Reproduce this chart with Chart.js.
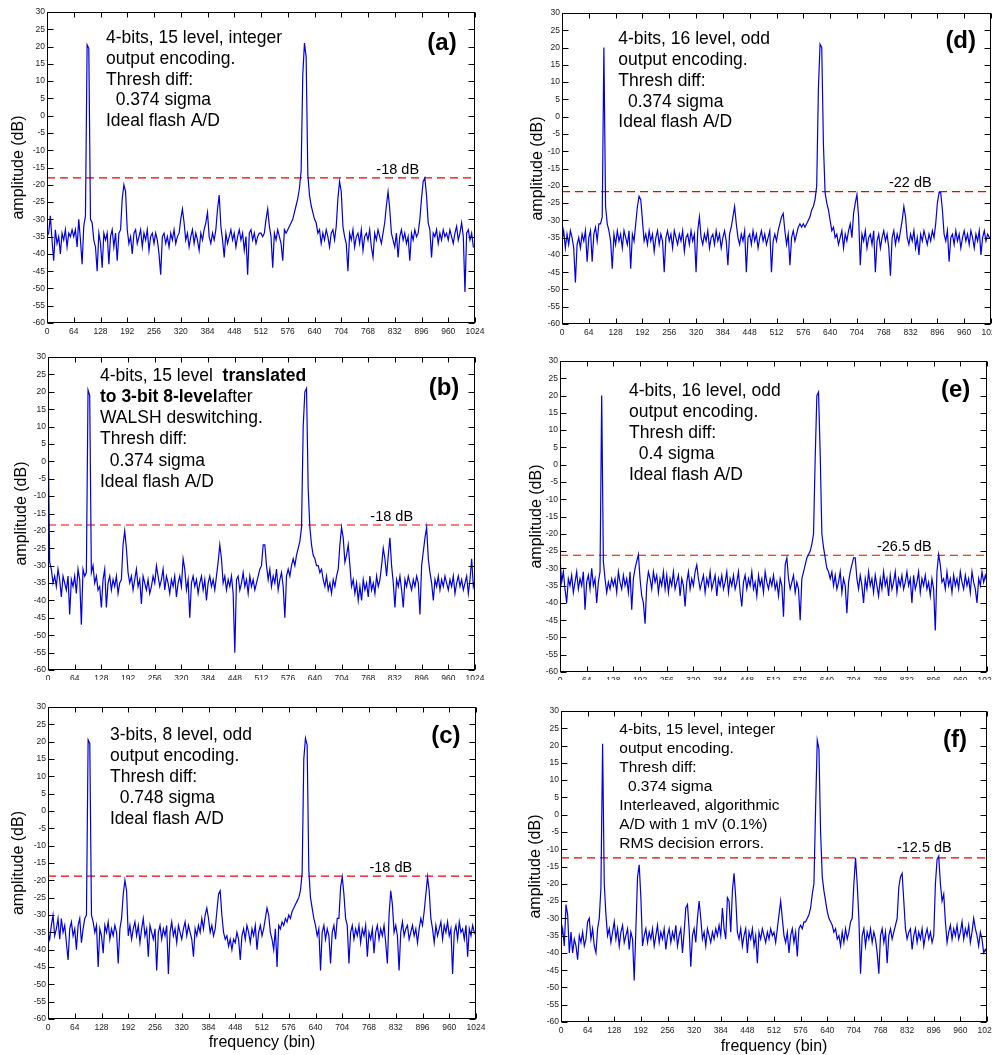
<!DOCTYPE html>
<html>
<head>
<meta charset="utf-8">
<script src="https://cdn.jsdelivr.net/npm/chart.js@4.4.0/dist/chart.umd.min.js"></script>
<style>
  html, body { margin: 0; padding: 0; background: #fff; }
  body { width: 992px; height: 1055px; position: relative; overflow: hidden; }
  canvas { position: absolute; }
</style>
</head>
<body>
<canvas id="pa" width="490" height="340" style="left:0;top:0"></canvas>
<canvas id="pb" width="490" height="340" style="left:0;top:340px"></canvas>
<canvas id="pc" width="490" height="375" style="left:0;top:680px"></canvas>
<canvas id="pd" width="492" height="340" style="left:500px;top:0"></canvas>
<canvas id="pe" width="492" height="340" style="left:500px;top:340px"></canvas>
<canvas id="pf" width="492" height="375" style="left:500px;top:680px"></canvas>
<script>
// one value every STEP bins, bins 0..1024
const STEP = 4;

const ampA = [
  -35,-34,-29,-36,-42,-33,-37,-35,-40,-34,-36,-33,-38,-34,-35,-33,
  -35,-33,-38,-30,-36,-43,-32,-29,20.5,19.5,-30,-31,-36,-38,-45,-34,
  -37,-44,-34,-36,-34,-43,-35,-33,-38,-34,-42,-34,-33,-24,-20,-22,
  -33,-37,-35,-40,-34,-33,-37,-35,-33,-38,-34,-36,-33,-39,-35,-34,
  -37,-34,-36,-40,-46,-35,-34,-37,-35,-38,-34,-36,-33,-37,-35,-34,
  -30,-27,-31,-36,-34,-38,-35,-33,-37,-34,-36,-39,-34,-36,-33,-31,
  -28,-35,-37,-34,-36,-33,-27,-23,-32,-36,-41,-34,-37,-35,-33,-36,
  -34,-38,-35,-33,-36,-34,-39,-35,-46,-34,-33,-36,-34,-37,-35,-34,
  -34,-35,-34,-30,-27,-32,-35,-44,-34,-36,-33,-35,-37,-42,-33,-34,
  -33,-32,-31,-30,-28,-26,-24,-21,-16,12,21,17,-17,-23,-26,-28,
  -30,-31,-34,-33,-37,-34,-36,-33,-35,-38,-34,-33,-36,-32,-24,-19,
  -22,-32,-35,-37,-45,-34,-36,-33,-38,-35,-34,-37,-33,-39,-35,-34,
  -36,-33,-38,-41,-34,-36,-33,-35,-37,-34,-31,-26,-22,-27,-34,-36,
  -38,-34,-41,-35,-33,-36,-34,-37,-35,-42,-34,-36,-33,-35,-34,-30,
  -24,-19,-18,-23,-31,-33,-41,-34,-35,-33,-37,-34,-36,-33,-35,-34,
  -36,-33,-35,-37,-34,-32,-36,-34,-31,-35,-51,-34,-33,-36,-34,-38,
  -38
];

const ampB = [
  12,-29,-31,-35,-33,-36,-31,-34,-39,-33,-35,-37,-33,-44,-34,-36,
  -33,-38,-31,-34,-47,-31,-33,-32,20.5,19,-32,-30,-35,-33,-37,-36,
  -42,-34,-31,-42,-35,-33,-37,-34,-36,-33,-38,-35,-34,-24,-20,-25,
  -32,-35,-33,-37,-34,-31,-36,-34,-41,-33,-35,-37,-34,-38,-36,-33,
  -35,-30,-33,-36,-34,-31,-37,-33,-35,-38,-34,-36,-33,-39,-35,-33,
  -36,-28,-31,-37,-34,-45,-35,-33,-36,-34,-38,-35,-33,-37,-34,-40,
  -35,-33,-36,-34,-37,-33,-29,-24,-28,-35,-33,-37,-34,-36,-33,-38,
  -55,-34,-33,-37,-35,-32,-36,-34,-38,-33,-36,-34,-37,-35,-33,-31,
  -30,-24,-24,-30,-34,-31,-36,-33,-35,-31,-37,-34,-32,-36,-45,-33,
  -31,-33,-30,-28,-30,-27,-25,-23,-19,10,20,21,-8,-19,-24,-27,
  -28,-30,-30,-32,-31,-34,-36,-33,-37,-35,-38,-34,-36,-33,-31,-24,
  -19,-22,-29,-27,-24,-30,-36,-34,-38,-35,-40,-36,-40,-34,-37,-35,
  -39,-33,-37,-35,-38,-33,-36,-34,-30,-25,-28,-33,-27,-22,-30,-35,
  -42,-34,-36,-33,-37,-42,-34,-36,-33,-35,-37,-34,-36,-33,-35,-44,
  -30,-26,-22,-19,-28,-32,-35,-40,-34,-36,-33,-37,-34,-36,-33,-35,
  -37,-34,-36,-33,-38,-35,-33,-36,-34,-37,-35,-33,-38,-34,-28,-36,
  -34
];

const ampC = [
  -35,-37,-33,-30,-36,-34,-31,-37,-31,-35,-33,-38,-43,-34,-32,-36,
  -34,-40,-33,-31,-38,-34,-31,-30,20.5,19.5,-30,-32,-35,-33,-45,-34,
  -36,-41,-33,-35,-32,-37,-34,-36,-33,-35,-44,-34,-31,-24,-20,-23,
  -36,-33,-37,-34,-32,-36,-33,-38,-34,-31,-36,-34,-42,-33,-35,-37,
  -34,-46,-35,-33,-37,-34,-36,-33,-47,-35,-32,-36,-34,-38,-33,-35,
  -37,-34,-32,-36,-33,-35,-37,-42,-34,-36,-33,-35,-31,-34,-30,-28,
  -31,-35,-33,-36,-34,-29,-24,-23,-30,-35,-37,-36,-39,-37,-40,-37,
  -38,-35,-37,-43,-36,-34,-37,-33,-35,-38,-34,-36,-33,-40,-35,-33,
  -36,-34,-31,-28,-30,-35,-37,-40,-34,-45,-33,-34,-32,-33,-31,-32,
  -30,-31,-29,-28,-27,-26,-25,-23,-18,15,21,19,-17,-25,-28,-31,
  -33,-36,-34,-46,-35,-33,-37,-34,-36,-44,-35,-33,-37,-31,-31,-22,
  -19,-24,-31,-33,-44,-35,-33,-37,-34,-36,-33,-38,-34,-36,-33,-42,
  -35,-37,-34,-41,-35,-33,-37,-34,-36,-33,-38,-44,-30,-23,-27,-35,
  -33,-36,-46,-35,-32,-36,-34,-33,-37,-35,-33,-36,-34,-38,-34,-31,
  -33,-29,-24,-19,-23,-31,-34,-38,-33,-36,-34,-32,-37,-33,-35,-32,
  -36,-34,-47,-35,-33,-37,-32,-35,-34,-37,-33,-42,-34,-36,-33,-35,
  -36
];

const ampD = [
  -36,-33,-38,-34,-37,-33,-35,-38,-48,-37,-35,-38,-34,-36,-33,-42,
  -35,-33,-42,-34,-32,-36,-31,-31,-29,20,-26,-31,-33,-36,-44,-34,
  -37,-33,-36,-34,-38,-33,-35,-37,-33,-44,-34,-36,-31,-26,-23,-24,
  -30,-36,-34,-37,-33,-36,-34,-39,-35,-33,-37,-34,-36,-45,-35,-33,
  -36,-34,-38,-33,-35,-37,-34,-36,-33,-39,-35,-34,-37,-33,-36,-34,
  -45,-33,-29,-35,-37,-34,-36,-33,-38,-35,-34,-37,-33,-36,-34,-38,
  -35,-33,-36,-43,-34,-32,-29,-26,-31,-35,-37,-34,-36,-33,-45,-35,
  -34,-37,-33,-36,-34,-38,-35,-33,-36,-34,-37,-35,-33,-45,-36,-34,
  -36,-33,-31,-29,-28,-33,-37,-34,-43,-35,-33,-36,-34,-32,-31,-32,
  -31,-32,-31,-30,-29,-27,-26,-24,-20,8,21,20,-8,-22,-25,-27,
  -30,-33,-32,-35,-34,-37,-35,-33,-38,-34,-36,-33,-31,-35,-28,-25,
  -22.5,-29,-43,-34,-36,-33,-38,-35,-34,-37,-33,-45,-36,-34,-38,-35,
  -33,-36,-34,-38,-46,-35,-33,-37,-34,-36,-33,-30,-26,-29,-35,-37,
  -34,-36,-33,-38,-35,-40,-34,-36,-33,-35,-37,-34,-36,-33,-35,-31,
  -25,-22,-22,-27,-34,-36,-33,-42,-35,-34,-37,-33,-36,-34,-38,-35,
  -33,-36,-34,-37,-33,-35,-38,-34,-36,-33,-40,-35,-33,-36,-34,-35,
  -35
];

const ampE = [
  -27,-34,-31,-36,-40,-33,-35,-32,-37,-34,-31,-36,-33,-35,-31,-42,
  -34,-32,-36,-30,-35,-33,-40,-34,-31,20,-28,-33,-37,-34,-36,-33,
  -35,-33,-37,-31,-34,-36,-32,-35,-33,-37,-31,-42,-33,-30,-28,-26,
  -33,-38,-40,-46,-35,-31,-33,-36,-31,-34,-32,-37,-33,-35,-31,-36,
  -32,-37,-33,-35,-31,-36,-34,-32,-38,-33,-35,-41,-34,-31,-36,-33,
  -35,-31,-29,-33,-36,-34,-32,-37,-33,-35,-31,-36,-34,-32,-38,-33,
  -35,-32,-36,-34,-31,-37,-33,-35,-32,-36,-34,-31,-37,-41,-34,-32,
  -36,-33,-35,-31,-36,-34,-38,-32,-35,-33,-37,-31,-34,-36,-33,-35,
  -32,-36,-34,-38,-33,-35,-44,-29,-27,-33,-36,-34,-32,-37,-34,-36,
  -45,-33,-31,-29,-27,-26,-25,-23,-20,2,20,21,3,-20,-24,-27,
  -30,-31,-33,-31,-35,-32,-36,-34,-31,-37,-33,-35,-43,-34,-31,-29,
  -27,-27,-33,-36,-32,-35,-40,-33,-36,-31,-35,-33,-37,-32,-35,-38,
  -33,-36,-31,-35,-33,-38,-32,-36,-34,-31,-37,-33,-35,-32,-36,-34,
  -31,-35,-33,-40,-32,-36,-34,-31,-37,-33,-35,-32,-36,-34,-38,-33,
  -36,-48,-31,-26,-29,-34,-33,-36,-31,-35,-33,-37,-32,-35,-33,-36,
  -31,-34,-36,-32,-35,-33,-37,-31,-34,-36,-40,-33,-35,-31,-34,-32,
  -34
];

const ampF = [
  -36,-33,-38,-26,-29,-40,-34,-40,-36,-38,-42,-35,-37,-34,-38,-36,
  -31,-30,-36,-33,-38,-40,-33,-30,-21,20.5,-20,-29,-35,-33,-37,-34,
  -31,-36,-33,-38,-34,-32,-37,-35,-33,-39,-34,-36,-48,-33,-18,-14.5,
  -24,-38,-35,-33,-37,-34,-36,-33,-38,-35,-32,-37,-34,-36,-33,-39,
  -35,-33,-37,-34,-36,-32,-38,-35,-33,-40,-34,-27,-26,-33,-44,-35,
  -33,-37,-30,-25,-30,-36,-34,-38,-33,-35,-37,-34,-36,-33,-35,-32,
  -35,-27,-33,-36,-24,-25,-34,-22,-17,-24,-34,-36,-33,-38,-35,-33,
  -40,-34,-36,-33,-38,-35,-43,-34,-36,-33,-35,-37,-34,-36,-33,-35,
  -34,-37,-33,-29,-25,-30,-35,-37,-34,-40,-35,-33,-37,-34,-41,-33,
  -32,-33,-31,-31,-30,-29,-27,-23,-20,2,21.5,19,-5,-18,-22,-25,
  -28,-30,-31,-32,-34,-33,-36,-35,-38,-34,-37,-33,-36,-34,-31,-30,
  -20,-12.5,-20,-30,-46,-35,-33,-38,-34,-36,-33,-37,-34,-36,-40,-46,
  -35,-33,-37,-34,-43,-35,-33,-36,-34,-32,-30,-21,-18,-17,-25,-33,
  -36,-34,-33,-39,-35,-33,-37,-34,-36,-33,-38,-35,-33,-36,-34,-37,
  -35,-20,-13,-12,-20,-25,-23,-31,-37,-34,-32,-36,-33,-35,-32,-36,
  -34,-31,-36,-33,-35,-32,-37,-34,-30,-33,-35,-38,-34,-36,-40,-39,
  -40
];

// red dashed reference levels (dB) and their labels
const levels = [-18, -18.3, -18.8, -21.7, -26.2, -12.5];
const levelText = ['-18 dB', '-18 dB', '-18 dB', '-22 dB', '-26.5 dB', '-12.5 dB'];
const letters = ['(a)', '(b)', '(c)', '(d)', '(e)', '(f)'];

const notesA = ['4-bits, 15 level, integer', 'output encoding.', 'Thresh diff:', '  0.374 sigma', 'Ideal flash A/D'];
const notesB = [[['4-bits, 15 level  ', 0], ['translated', 1]], [['to 3-bit 8-level', 1], ['after', 0]],
                'WALSH deswitching.', 'Thresh diff:', '  0.374 sigma', 'Ideal flash A/D'];
const notesC = ['3-bits, 8 level, odd', 'output encoding.', 'Thresh diff:', '  0.748 sigma', 'Ideal flash A/D'];
const notesD = ['4-bits, 16 level, odd', 'output encoding.', 'Thresh diff:', '  0.374 sigma', 'Ideal flash A/D'];
const notesE = ['4-bits, 16 level, odd', 'output encoding.', 'Thresh diff:', '  0.4 sigma', 'Ideal flash A/D'];
const notesF = ['4-bits, 15 level, integer', 'output encoding.', 'Thresh diff:', '  0.374 sigma',
                'Interleaved, algorithmic', 'A/D with 1 mV (0.1%)', 'RMS decision errors.'];

const FONT = 'Liberation Sans';

// draws the box, inward ticks on all four sides and the text on the plot
const decor = {
  id: 'decor',
  afterDraw(chart, args, o) {
    const {ctx, chartArea: a, scales: {x, y}} = chart;
    ctx.save();
    ctx.strokeStyle = '#000';
    ctx.lineWidth = 1;
    const L = Math.round(a.left) + 0.5, R = Math.round(a.right) - 0.5;
    const T = Math.round(a.top) + 0.5, B = Math.round(a.bottom) - 0.5;
    ctx.strokeRect(L, T, R - L, B - T);
    ctx.beginPath();
    x.ticks.forEach(t => {
      const px = Math.round(x.getPixelForValue(t.value)) + 0.5;
      ctx.moveTo(px, B); ctx.lineTo(px, B - 5);
      ctx.moveTo(px, T); ctx.lineTo(px, T + 5);
    });
    y.ticks.forEach(t => {
      const py = Math.round(y.getPixelForValue(t.value)) + 0.5;
      ctx.moveTo(L, py); ctx.lineTo(L + 6, py);
      ctx.moveTo(R, py); ctx.lineTo(R - 6, py);
    });
    ctx.stroke();

    ctx.fillStyle = '#000';
    ctx.textBaseline = 'middle';
    ctx.textAlign = 'left';
    o.notes.forEach((line, i) => {
      let cx = o.nx;
      const cy = o.ny + i * o.lh;
      const segs = Array.isArray(line) ? line : [[line, 0]];
      segs.forEach(([txt, bold]) => {
        ctx.font = (bold ? 'bold ' : '') + o.size + 'px "' + FONT + '"';
        ctx.fillText(txt, cx, cy);
        cx += ctx.measureText(txt).width;
      });
    });

    ctx.textAlign = 'center';
    ctx.font = 'bold 24px "' + FONT + '"';
    ctx.fillText(o.letter, o.lx, o.ly);
    ctx.font = '14.5px "' + FONT + '"';
    ctx.fillText(o.dbText, o.dx, o.dy);
    ctx.restore();
  }
};

const panels = [
  {id: 'pa', amp: ampA, k: 0, notes: notesA, yW: 47, pr: 15, pt: 12, xH: 17, yt: 10.3, xt: null,
   nx: 106, ny: 38.3, lh: 20.7, size: 17.5, lx: 442, ly: 43, dx: 397.7, dy: 170},
  {id: 'pb', amp: ampB, k: 1, notes: notesB, yW: 48, pr: 15, pt: 17, xH: 10, yt: 13.7, xt: null,
   nx: 100, ny: 35.7, lh: 21.3, size: 17.5, lx: 444, ly: 48.3, dx: 391.7, dy: 176.7},
  {id: 'pc', amp: ampC, k: 2, notes: notesC, yW: 48, pr: 14, pt: 27, xH: 36, yt: 11, xt: 4,
   nx: 110, ny: 55, lh: 21, size: 17.5, lx: 445.8, ly: 56, dx: 390.8, dy: 188.3},
  {id: 'pd', amp: ampD, k: 3, notes: notesD, yW: 62, pr: 1, pt: 13, xH: 16, yt: 29.5, xt: null,
   nx: 118.3, ny: 39.3, lh: 20.8, size: 17.5, lx: 460.7, ly: 41.7, dx: 410.3, dy: 183.3},
  {id: 'pe', amp: ampE, k: 4, notes: notesE, yW: 60, pr: 5, pt: 21, xH: 8, yt: 28.7, xt: null,
   nx: 129, ny: 51, lh: 21, size: 17.5, lx: 455.7, ly: 50.7, dx: 404.3, dy: 206.7},
  {id: 'pf', amp: ampF, k: 5, notes: notesF, yW: 61, pr: 5, pt: 31, xH: 33, yt: 27.7, xt: 0.3,
   nx: 119.3, ny: 50, lh: 18.9, size: 15.5, lx: 455, ly: 60, dx: 424.3, dy: 168.3}
];

const tickFont = {family: FONT, size: 8.5};

panels.forEach(p => {
  const lv = levels[p.k];
  new Chart(document.getElementById(p.id), {
    type: 'line',
    data: {
      datasets: [
        {
          data: p.amp.map((v, i) => ({x: i * STEP, y: v})),
          borderColor: '#0000e0',
          borderWidth: 1.2,
          pointRadius: 0,
          tension: 0,
          fill: false
        },
        {
          data: [{x: 0, y: lv}, {x: 1024, y: lv}],
          borderColor: '#f00000',
          borderWidth: 1.1,
          borderDash: [8, 5],
          pointRadius: 0,
          fill: false
        }
      ]
    },
    options: {
      responsive: false,
      animation: false,
      devicePixelRatio: 1,
      events: [],
      layout: {padding: {left: 0, right: p.pr, top: p.pt, bottom: 0}},
      plugins: {
        legend: {display: false},
        tooltip: {enabled: false},
        decor: {
          notes: p.notes, nx: p.nx, ny: p.ny, lh: p.lh, size: p.size,
          letter: letters[p.k], lx: p.lx, ly: p.ly,
          dbText: levelText[p.k], dx: p.dx, dy: p.dy
        }
      },
      scales: {
        x: {
          type: 'linear', min: 0, max: 1024,
          grid: {display: false, drawTicks: false},
          border: {display: false},
          ticks: {stepSize: 64, autoSkip: false, maxRotation: 0, padding: 4, font: tickFont, color: '#222',
                  callback: v => String(v)},
          title: {
            display: p.xt !== null, text: 'frequency (bin)', color: '#000',
            font: {family: FONT, size: 16, lineHeight: 1}, padding: {top: 0, bottom: p.xt || 0}
          },
          afterFit(s) { s.height = p.xH; s.paddingLeft = 0; s.paddingRight = 0; }
        },
        y: {
          min: -60, max: 30,
          grid: {display: false, drawTicks: false},
          border: {display: false},
          ticks: {stepSize: 5, autoSkip: false, padding: 2, font: tickFont, color: '#222',
                  callback: v => String(v)},
          title: {
            display: true, text: 'amplitude (dB)', color: '#000',
            font: {family: FONT, size: 16, lineHeight: 1}, padding: {top: p.yt, bottom: 0}
          },
          afterFit(s) { s.width = p.yW; s.paddingTop = 0; s.paddingBottom = 0; }
        }
      }
    },
    plugins: [decor]
  });
});
</script>
</body>
</html>
